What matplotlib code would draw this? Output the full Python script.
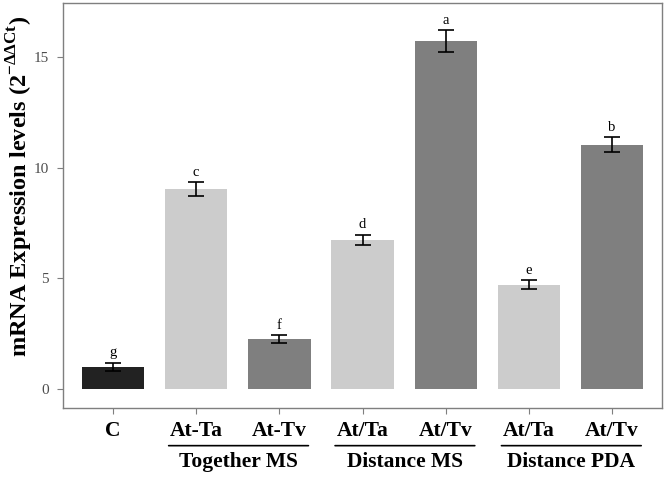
import matplotlib
matplotlib.use('Agg')
import matplotlib.pyplot as plt

plt.rcParams['font.family'] = 'Liberation Serif'
plt.rcParams['mathtext.fontset'] = 'custom'
plt.rcParams['mathtext.rm'] = 'Liberation Serif'
plt.rcParams['mathtext.bf'] = 'Liberation Serif:bold'

# data
tick_labels = ['C', 'At-Ta', 'At-Tv', 'At/Ta', 'At/Tv', 'At/Ta', 'At/Tv']
means = [1.0, 9.05, 2.25, 6.76, 15.75, 4.72, 11.05]
errors = [0.19, 0.30, 0.18, 0.23, 0.49, 0.20, 0.35]
letters = ['g', 'c', 'f', 'd', 'a', 'e', 'b']
bar_colors = ['#222222', '#cccccc', '#7f7f7f', '#cccccc', '#7f7f7f', '#cccccc', '#7f7f7f']
groups = ['Together MS', 'Distance MS', 'Distance PDA']
group_members = [(1, 2), (3, 4), (5, 6)]

fig = plt.figure(figsize=(6.66, 4.78), dpi=100)
ax = fig.add_axes([0.0946, 0.1464, 0.8994, 0.8467])

x = list(range(len(means)))
ax.bar(x, means, width=0.75, color=bar_colors, zorder=2)
ax.errorbar(x, means, yerr=errors, fmt='none', ecolor='black',
            elinewidth=1.2, capsize=6, capthick=1.2, zorder=3)

# significance letters above error bars
for xi, m, e, lab in zip(x, means, errors, letters):
    ax.text(xi, m + e + 0.15, lab, ha='center', va='bottom', fontsize=10.5)

ax.set_xlim(-0.6, 6.6)
ax.set_ylim(-0.86, 17.45)
ax.set_yticks([0, 5, 10, 15])
ax.set_xticks(x)
ax.set_xticklabels(tick_labels, fontsize=15.5, fontweight='bold')
ax.tick_params(axis='y', labelsize=11, labelcolor='#4d4d4d', color='#7f7f7f',
               length=4, width=0.8, pad=6)
ax.tick_params(axis='x', color='#7f7f7f', length=4, width=0.8, pad=5)
for s in ax.spines.values():
    s.set_color('#7f7f7f')
    s.set_linewidth(1.0)

# group brackets under the tick labels
for name, (a, b) in zip(groups, group_members):
    x0, x1 = a - 0.33, b + 0.35
    ax.annotate('', xy=(x1, -0.093), xytext=(x0, -0.093),
                xycoords=('data', 'axes fraction'),
                arrowprops=dict(arrowstyle='-', color='black', lw=1.2,
                                shrinkA=0, shrinkB=0),
                annotation_clip=False)
    ax.text((x0 + x1) / 2, -0.133, name, transform=ax.get_xaxis_transform(),
            ha='center', va='center', fontsize=15.5, fontweight='bold')

fig.text(20 / 666, 1 - 186 / 478,
         r'mRNA Expression levels (2$^{\mathbf{-\Delta\Delta Ct}}$)',
         rotation=90, ha='center', va='center', fontsize=17.5, fontweight='bold')

fig.savefig('out.png', dpi=100)
